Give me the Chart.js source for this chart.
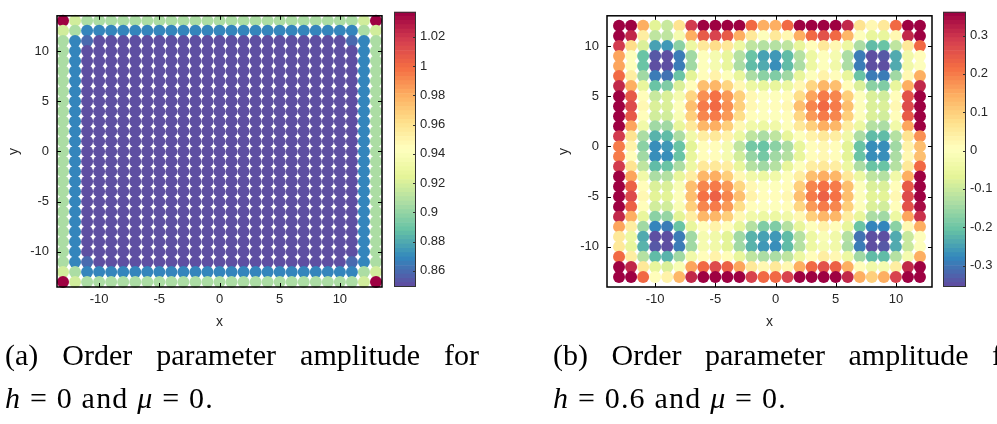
<!DOCTYPE html>
<html>
<head>
<meta charset="utf-8">
<script src="https://cdn.jsdelivr.net/npm/chart.js@4.4.1/dist/chart.umd.min.js"></script>
<style>
  html, body { margin: 0; padding: 0; background: #fff; }
  body { width: 997px; height: 424px; position: relative; overflow: hidden; }
  .box { position: absolute; }
  .cap { position: absolute; font-family: "Liberation Serif", "Times New Roman", serif; font-size: 30px; line-height: 43px; color: #000; white-space: nowrap; }
  .cap .l1 { width: 474px; white-space: normal; text-align: justify; text-align-last: justify; }
  .cap .l2 { letter-spacing: 1.2px; }
</style>
</head>
<body>
<div class="box" style="left:0;top:0;width:390px;height:340px"><canvas id="mapA"></canvas></div>
<div class="box" style="left:388px;top:0;width:70px;height:300px"><canvas id="barA"></canvas></div>
<div class="box" style="left:550px;top:0;width:390px;height:340px"><canvas id="mapB"></canvas></div>
<div class="box" style="left:937px;top:0;width:60px;height:300px"><canvas id="barB"></canvas></div>

<div class="cap" style="left:5px;top:333px">
  <div class="l1">(a) Order parameter amplitude for</div>
  <div class="l2"><i>h</i> = 0 and <i>μ</i> = 0.</div>
</div>
<div class="cap" style="left:553px;top:333px">
  <div class="l1">(b) Order parameter amplitude for</div>
  <div class="l2"><i>h</i> = 0.6 and <i>μ</i> = 0.</div>
</div>

<script>
// lattice sites
const xA = [-13, -12, -11, -10, -9, -8, -7, -6, -5, -4, -3, -2, -1, 0, 1, 2, 3, 4, 5, 6, 7, 8, 9, 10, 11, 12, 13];
const yA = [13, 12, 11, 10, 9, 8, 7, 6, 5, 4, 3, 2, 1, 0, -1, -2, -3, -4, -5, -6, -7, -8, -9, -10, -11, -12, -13];
const xB = [-13, -12, -11, -10, -9, -8, -7, -6, -5, -4, -3, -2, -1, 0, 1, 2, 3, 4, 5, 6, 7, 8, 9, 10, 11, 12];
const yB = [12, 11, 10, 9, 8, 7, 6, 5, 4, 3, 2, 1, 0, -1, -2, -3, -4, -5, -6, -7, -8, -9, -10, -11, -12, -13];

// tick labels
const xTicks = [-10, -5, 0, 5, 10];
const yTicks = [-10, -5, 0, 5, 10];
const cbTicksA = [0.86, 0.88, 0.9, 0.92, 0.94, 0.96, 0.98, 1, 1.02];
const cbTicksB = [-0.3, -0.2, -0.1, 0, 0.1, 0.2, 0.3];

// colour ranges
const rangeA = [0.849, 1.037];
const rangeB = [-0.356, 0.362];

// h = 0: amplitude per row (top row y = 13 first, columns x = -13 .. 13)
const rowA13 = [1.036, 0.917, 0.905, 0.905, 0.905, 0.905, 0.905, 0.905, 0.905, 0.905, 0.905, 0.905, 0.905, 0.905, 0.905, 0.905, 0.905, 0.905, 0.905, 0.905, 0.905, 0.905, 0.905, 0.905, 0.905, 0.917, 1.036];
const rowA12 = [0.917, 0.905, 0.868, 0.868, 0.868, 0.868, 0.868, 0.868, 0.868, 0.868, 0.868, 0.868, 0.868, 0.868, 0.868, 0.868, 0.868, 0.868, 0.868, 0.868, 0.868, 0.868, 0.868, 0.868, 0.868, 0.905, 0.917];
const rowA11 = [0.905, 0.868, 0.860, 0.851, 0.851, 0.851, 0.851, 0.851, 0.851, 0.851, 0.851, 0.851, 0.851, 0.851, 0.851, 0.851, 0.851, 0.851, 0.851, 0.851, 0.851, 0.851, 0.851, 0.851, 0.860, 0.868, 0.905];
const rowAIn = [0.905, 0.868, 0.851, 0.851, 0.851, 0.851, 0.851, 0.851, 0.851, 0.851, 0.851, 0.851, 0.851, 0.851, 0.851, 0.851, 0.851, 0.851, 0.851, 0.851, 0.851, 0.851, 0.851, 0.851, 0.851, 0.868, 0.905];
const ampA = [rowA13, rowA12, rowA11,
  rowAIn, rowAIn, rowAIn, rowAIn, rowAIn, rowAIn, rowAIn, rowAIn, rowAIn, rowAIn, rowAIn,
  rowAIn, rowAIn, rowAIn, rowAIn, rowAIn, rowAIn, rowAIn, rowAIn, rowAIn, rowAIn,
  rowA11, rowA12, rowA13];

// h = 0.6: amplitude per row (top row y = 12 first, columns x = -13 .. 12)
const ampB = [
  [0.36, 0.36, 0.14, -0.07, -0.1, 0.07, 0.29, 0.36, 0.36, 0.36, 0.36, 0.22, 0.14, 0.14, 0.22, 0.36, 0.36, 0.36, 0.36, 0.31, 0.06, 0.02, 0.05, 0.22, 0.36, 0.36],
  [0.36, 0.31, 0.04, -0.12, -0.12, -0.03, 0.14, 0.24, 0.28, 0.24, 0.14, 0.05, 0.0, 0.05, 0.02, 0.14, 0.22, 0.26, 0.22, 0.13, 0.0, -0.06, -0.06, 0.02, 0.31, 0.36],
  [0.29, 0.08, -0.08, -0.25, -0.26, -0.17, -0.05, 0.05, 0.08, 0.05, -0.05, -0.12, -0.13, -0.13, -0.12, -0.06, 0.01, 0.05, 0.02, -0.05, -0.14, -0.22, -0.21, -0.12, 0.05, 0.22],
  [0.15, 0.0, -0.21, -0.34, -0.36, -0.29, -0.15, 0.0, -0.02, -0.06, -0.13, -0.21, -0.25, -0.26, -0.22, -0.13, -0.05, 0.0, -0.03, -0.14, -0.29, -0.36, -0.34, -0.24, -0.04, 0.01],
  [0.15, 0.0, -0.21, -0.35, -0.36, -0.29, -0.15, 0.0, -0.03, -0.06, -0.14, -0.22, -0.24, -0.27, -0.22, -0.14, -0.05, 0.0, -0.04, -0.14, -0.29, -0.36, -0.36, -0.24, -0.04, 0.0],
  [0.22, 0.04, -0.15, -0.29, -0.3, -0.2, -0.07, 0.01, 0.03, 0.0, -0.06, -0.14, -0.17, -0.18, -0.15, -0.06, 0.0, 0.03, 0.01, -0.06, -0.2, -0.29, -0.29, -0.15, 0.02, 0.14],
  [0.31, 0.14, -0.06, -0.2, -0.18, -0.08, 0.01, 0.12, 0.13, 0.09, 0.02, -0.05, -0.06, -0.06, -0.05, 0.02, 0.09, 0.13, 0.12, 0.01, -0.08, -0.17, -0.18, -0.06, 0.14, 0.31],
  [0.36, 0.24, 0.01, -0.1, -0.08, -0.03, 0.09, 0.18, 0.21, 0.17, 0.1, 0.02, 0.0, 0.0, 0.01, 0.08, 0.16, 0.2, 0.19, 0.1, 0.0, -0.08, -0.09, 0.01, 0.26, 0.36],
  [0.36, 0.27, 0.02, -0.08, -0.08, 0.0, 0.12, 0.2, 0.22, 0.18, 0.1, 0.02, 0.0, 0.01, 0.02, 0.12, 0.19, 0.22, 0.2, 0.12, 0.0, -0.08, -0.08, 0.02, 0.27, 0.36],
  [0.36, 0.24, 0.01, -0.09, -0.09, -0.01, 0.1, 0.19, 0.2, 0.17, 0.08, 0.01, 0.0, 0.0, 0.01, 0.09, 0.17, 0.2, 0.19, 0.1, 0.0, -0.08, -0.09, 0.01, 0.24, 0.36],
  [0.36, 0.15, -0.04, -0.15, -0.15, -0.06, 0.05, 0.13, 0.14, 0.1, 0.02, -0.04, -0.05, -0.04, 0.0, 0.05, 0.1, 0.14, 0.13, 0.04, -0.05, -0.13, -0.14, -0.04, 0.15, 0.36],
  [0.29, 0.07, -0.14, -0.23, -0.22, -0.14, -0.04, 0.04, 0.05, 0.03, -0.05, -0.12, -0.14, -0.12, -0.06, 0.0, 0.03, 0.05, 0.04, -0.04, -0.14, -0.22, -0.22, -0.13, 0.06, 0.18],
  [0.2, 0.03, -0.17, -0.27, -0.26, -0.2, -0.07, 0.01, 0.01, -0.03, -0.12, -0.19, -0.21, -0.17, -0.14, -0.06, 0.01, 0.02, 0.01, -0.07, -0.2, -0.27, -0.27, -0.15, 0.03, 0.12],
  [0.2, 0.01, -0.15, -0.27, -0.27, -0.2, -0.06, 0.01, 0.01, -0.02, -0.09, -0.16, -0.19, -0.15, -0.13, -0.06, 0.01, 0.02, 0.01, -0.07, -0.2, -0.27, -0.27, -0.14, 0.02, 0.12],
  [0.29, 0.07, -0.12, -0.22, -0.21, -0.14, -0.05, 0.05, 0.05, 0.04, -0.06, -0.13, -0.15, -0.13, -0.06, 0.0, 0.04, 0.05, 0.04, -0.05, -0.14, -0.21, -0.21, -0.13, 0.05, 0.22],
  [0.36, 0.15, -0.04, -0.14, -0.13, -0.06, 0.04, 0.13, 0.14, 0.1, 0.02, -0.04, -0.05, -0.04, 0.0, 0.04, 0.12, 0.14, 0.13, 0.05, -0.05, -0.12, -0.13, -0.04, 0.14, 0.36],
  [0.36, 0.23, 0.01, -0.08, -0.08, -0.01, 0.12, 0.19, 0.2, 0.17, 0.09, 0.02, 0.0, 0.0, 0.01, 0.1, 0.19, 0.21, 0.2, 0.12, 0.0, -0.08, -0.08, 0.01, 0.24, 0.36],
  [0.36, 0.27, 0.02, -0.07, -0.07, 0.0, 0.12, 0.21, 0.23, 0.19, 0.12, 0.03, 0.01, 0.01, 0.02, 0.12, 0.2, 0.23, 0.21, 0.12, 0.0, -0.07, -0.07, 0.02, 0.27, 0.36],
  [0.36, 0.23, 0.01, -0.09, -0.09, -0.01, 0.1, 0.19, 0.2, 0.17, 0.08, 0.01, 0.0, 0.0, 0.01, 0.09, 0.17, 0.2, 0.19, 0.1, 0.0, -0.08, -0.09, 0.01, 0.26, 0.34],
  [0.31, 0.14, -0.06, -0.17, -0.16, -0.07, 0.04, 0.13, 0.13, 0.1, 0.02, -0.04, -0.05, -0.05, -0.04, 0.02, 0.1, 0.13, 0.13, 0.04, -0.06, -0.14, -0.15, -0.05, 0.15, 0.3],
  [0.15, 0.04, -0.15, -0.28, -0.29, -0.2, -0.06, 0.01, 0.03, 0.01, -0.06, -0.13, -0.18, -0.18, -0.13, -0.06, 0.0, 0.03, 0.01, -0.06, -0.2, -0.28, -0.28, -0.17, 0.02, 0.14],
  [0.05, -0.05, -0.24, -0.35, -0.36, -0.29, -0.15, -0.03, -0.04, -0.07, -0.15, -0.23, -0.25, -0.26, -0.22, -0.13, -0.05, -0.01, -0.04, -0.13, -0.3, -0.36, -0.35, -0.24, -0.1, 0.0],
  [0.05, -0.06, -0.23, -0.34, -0.36, -0.29, -0.15, -0.03, -0.04, -0.07, -0.15, -0.23, -0.26, -0.27, -0.22, -0.13, -0.05, -0.03, -0.04, -0.14, -0.29, -0.36, -0.34, -0.24, -0.1, 0.0],
  [0.22, 0.04, -0.13, -0.22, -0.23, -0.15, -0.04, 0.01, 0.03, 0.01, -0.06, -0.12, -0.14, -0.14, -0.12, -0.05, 0.01, 0.04, 0.02, -0.05, -0.15, -0.22, -0.22, -0.13, -0.03, 0.14],
  [0.36, 0.31, 0.05, -0.06, -0.08, -0.01, 0.15, 0.22, 0.27, 0.23, 0.15, 0.05, 0.02, 0.05, 0.02, 0.14, 0.22, 0.26, 0.23, 0.14, 0.01, -0.04, -0.03, 0.04, 0.31, 0.36],
  [0.36, 0.36, 0.22, 0.01, 0.03, 0.13, 0.31, 0.36, 0.36, 0.36, 0.36, 0.28, 0.22, 0.22, 0.28, 0.36, 0.36, 0.36, 0.36, 0.31, 0.14, 0.1, 0.14, 0.28, 0.36, 0.36]
];

// reversed Spectral colormap, 64 discrete levels
const spectral = ['#5e4fa2', '#3288bd', '#66c2a5', '#abdda4', '#e6f598', '#ffffbf',
  '#fee08b', '#fdae61', '#f46d43', '#d53e4f', '#9e0142'];
const LEVELS = 64;
const tickFont = { family: '"Liberation Sans", Arial, sans-serif', size: 13 };
const inkColor = '#262626';

function hexRgb(h) {
  const n = parseInt(h.slice(1), 16);
  return [(n >> 16) & 255, (n >> 8) & 255, n & 255];
}
function levelColor(t) {
  const f = t * (spectral.length - 1);
  const i = Math.min(Math.floor(f), spectral.length - 2);
  const k = f - i;
  const a = hexRgb(spectral[i]), b = hexRgb(spectral[i + 1]);
  const c = a.map((v, j) => Math.round(v + (b[j] - v) * k));
  return `rgb(${c[0]},${c[1]},${c[2]})`;
}
function valueColor(v, range) {
  let t = (v - range[0]) / (range[1] - range[0]);
  t = Math.max(0, Math.min(1, t));
  const lvl = Math.min(LEVELS - 1, Math.floor(t * LEVELS));
  return levelColor(lvl / (LEVELS - 1));
}

// black box with inward ticks on all four sides
const framePlugin = {
  id: 'frame',
  afterDraw(chart) {
    const { ctx, chartArea: a, scales: { x, y } } = chart;
    const len = 4;
    ctx.save();
    ctx.strokeStyle = '#000';
    ctx.lineWidth = 1;
    ctx.beginPath();
    x.ticks.forEach(t => {
      const px = Math.round(x.getPixelForValue(t.value)) + 0.5;
      ctx.moveTo(px, a.bottom); ctx.lineTo(px, a.bottom - len);
      ctx.moveTo(px, a.top); ctx.lineTo(px, a.top + len);
    });
    y.ticks.forEach(t => {
      const py = Math.round(y.getPixelForValue(t.value)) + 0.5;
      ctx.moveTo(a.left, py); ctx.lineTo(a.left + len, py);
      ctx.moveTo(a.right, py); ctx.lineTo(a.right - len, py);
    });
    ctx.stroke();
    ctx.lineWidth = 1.5;
    ctx.strokeRect(a.left, a.top, a.right - a.left, a.bottom - a.top);
    ctx.restore();
  }
};

// thin outline and right-side ticks for the colour bar
const barFramePlugin = {
  id: 'barFrame',
  afterDraw(chart) {
    const { ctx, chartArea: a, scales: { y } } = chart;
    ctx.save();
    ctx.strokeStyle = '#333';
    ctx.lineWidth = 1;
    ctx.beginPath();
    y.ticks.forEach(t => {
      const py = Math.round(y.getPixelForValue(t.value)) + 0.5;
      ctx.moveTo(a.right, py); ctx.lineTo(a.right - 3, py);
    });
    ctx.stroke();
    ctx.strokeRect(a.left + 0.5, a.top + 0.5, a.right - a.left - 1, a.bottom - a.top - 1);
    ctx.restore();
  }
};

function mapChart(id, xs, ys, amp, range, lim) {
  const pts = [], cols = [];
  ys.forEach((y, r) => xs.forEach((x, c) => {
    pts.push({ x: x, y: y });
    cols.push(valueColor(amp[r][c], range));
  }));
  return new Chart(document.getElementById(id), {
    type: 'scatter',
    data: {
      datasets: [{
        data: pts,
        pointBackgroundColor: cols,
        pointBorderWidth: 0,
        pointRadius: 6,
        pointHoverRadius: 6,
        clip: false
      }]
    },
    options: {
      responsive: true,
      maintainAspectRatio: false,
      animation: false,
      events: [],
      layout: { padding: { top: 2, right: 8, left: 0, bottom: 0 } },
      plugins: { legend: { display: false }, tooltip: { enabled: false } },
      scales: {
        x: {
          type: 'linear', min: lim[0], max: lim[1],
          grid: { display: false, drawTicks: false },
          border: { display: false },
          ticks: { font: tickFont, color: inkColor, padding: 5, maxRotation: 0 },
          title: { display: true, text: 'x', font: { family: tickFont.family, size: 14 }, color: inkColor, padding: { top: 0, bottom: 9 } },
          afterBuildTicks: s => { s.ticks = xTicks.map(v => ({ value: v })); },
          afterFit: s => { s.height = 53; }
        },
        y: {
          type: 'linear', min: lim[0], max: lim[1],
          grid: { display: false, drawTicks: false },
          border: { display: false },
          ticks: { font: tickFont, color: inkColor, padding: 8 },
          title: { display: true, text: 'y', font: { family: tickFont.family, size: 14 }, color: inkColor, padding: { top: 6, bottom: 0 } },
          afterBuildTicks: s => { s.ticks = yTicks.map(v => ({ value: v })); },
          afterFit: s => { s.width = 57; }
        }
      }
    },
    plugins: [framePlugin]
  });
}

function barChart(id, range, ticks, axisWidth) {
  const sets = [];
  const step = (range[1] - range[0]) / LEVELS;
  for (let i = 0; i < LEVELS; i++) {
    sets.push({
      data: [[range[0] + step * i, range[0] + step * (i + 1)]],
      backgroundColor: levelColor(i / (LEVELS - 1)),
      borderWidth: 0,
      grouped: false,
      barPercentage: 1,
      categoryPercentage: 1
    });
  }
  return new Chart(document.getElementById(id), {
    type: 'bar',
    data: { labels: [''], datasets: sets },
    options: {
      responsive: true,
      maintainAspectRatio: false,
      animation: false,
      events: [],
      layout: { padding: { top: 2, left: 6, bottom: 13, right: 0 } },
      plugins: { legend: { display: false }, tooltip: { enabled: false } },
      scales: {
        x: { display: false },
        y: {
          position: 'right', min: range[0], max: range[1],
          grid: { display: false, drawTicks: false },
          border: { display: false },
          ticks: { font: tickFont, color: inkColor, padding: 4, callback: v => String(+v.toFixed(2)) },
          afterBuildTicks: s => { s.ticks = ticks.map(v => ({ value: v })); },
          afterFit: s => { s.width = axisWidth; }
        }
      }
    },
    plugins: [barFramePlugin]
  });
}

mapChart('mapA', xA, yA, ampA, rangeA, [-13.5, 13.5]);
barChart('barA', rangeA, cbTicksA, 42);
mapChart('mapB', xB, yB, ampB, rangeB, [-14, 13]);
barChart('barB', rangeB, cbTicksB, 31);
</script>
</body>
</html>
